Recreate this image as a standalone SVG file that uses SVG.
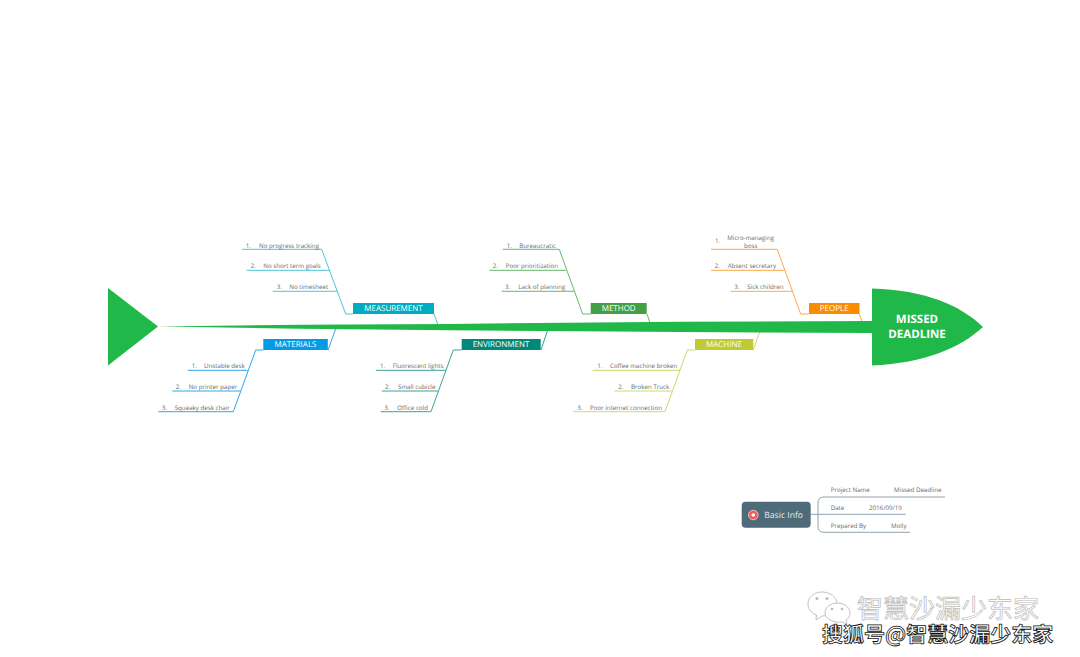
<svg xmlns="http://www.w3.org/2000/svg" width="1080" height="657" viewBox="0 0 1080 657">
<style>
text{font-family:"Open Sans","Noto Sans","Noto Sans CJK SC",sans-serif;text-rendering:geometricPrecision}
.it{font-size:6.2px;fill:#6a6a6a}
.cat{font-size:8px;fill:#fff;text-anchor:middle}
.hd{font-size:11.5px;font-weight:700;fill:#fff;text-anchor:middle}
.ln{fill:none;stroke-width:1}
.wm1{font-family:"Noto Sans CJK SC",sans-serif;font-size:26px;fill:#fff;stroke:#bbb;stroke-width:.7}
.wm2{font-family:"Noto Sans CJK SC",sans-serif;font-size:21px;font-weight:700;fill:#fff;stroke:#111;stroke-width:.8}
.wi{fill:#fff;stroke:#bbb;stroke-width:.9}
.g{fill:#21b84a}
</style>
<g id="connectors">
<g class="ln" stroke="#4fc3d9">
<path d="M434 314L438 325M353 314H345.7L321.7 249.3H242M330 270.3H246.7M337.3 291.3H272.7"/>
</g>
<g class="ln" stroke="#2ea7ea">
<path d="M328 350L336 328M263.3 350H255.7L233.3 411.7H158.3M247.7 370.3H187.7M240.7 391H172.3"/>
</g>
<g class="ln" stroke="#3aa397">
<path d="M541 350L548 329M461.7 350H453.3L431 411.7H380.7M446 370.3H376M438.3 391H381.7"/>
</g>
<g class="ln" stroke="#66b96a">
<path d="M647 314L650 323M590.7 314H582.7L559.3 249.3H502.7M566 270.3H489.3M574 291.3H501.7"/>
</g>
<g class="ln" stroke="#fba94a">
<path d="M859.5 314L862 322M809 314H800.7L777.3 249.3H711M785 270.3H711M792.7 291.3H730.7"/>
</g>
<g class="ln" stroke="#d0d86a">
<path d="M753.3 350L760 331M695 350H687.3L665 411.7H573.3M680 370.3H592.7M671.7 391H614.3"/>
</g>
<g class="ln" stroke="#8ea3ae">
<path d="M810.7 514.3H905.7M945 497H824Q818 497 818 503V526.3Q818 532.3 824 532.3H910"/>
</g>
</g>
<g id="fish">
<path id="spine" class="g" d="M158 326.5L300 324.8L450 323.9L680 321.8L872 321V333L680 332L450 330.2L300 328.8Z"/>
<path id="tail" class="g" d="M108 288L158 326.5L108 365.5Z"/>
<g id="head">
<path class="g" d="M872 288.5C925 290 960 305 983 327C960 348 925 363 872 365.5Z"/>
<text class="hd" x="917" y="323">MISSED</text>
<text class="hd" x="917" y="338">DEADLINE</text>
</g>
</g>
<g id="measurement">
<rect x="353" y="303" width="81" height="11" fill="#00acc1"/><text class="cat" x="393.5" y="311.4">MEASUREMENT</text>
<text class="it" y="247.5"><tspan x="245.7">1.</tspan><tspan x="259">No progress tracking</tspan></text>
<text class="it" y="268.4"><tspan x="250.7">2.</tspan><tspan x="263.3">No short term goals</tspan></text>
<text class="it" y="289.1"><tspan x="276.7">3.</tspan><tspan x="289.3">No timesheet</tspan></text>
</g>
<g id="materials">
<rect x="263.3" y="339" width="64.5" height="11" fill="#039be5"/><text class="cat" x="295.5" y="347.4">MATERIALS</text>
<text class="it" y="368.4"><tspan x="191.7">1.</tspan><tspan x="204">Unstable desk</tspan></text>
<text class="it" y="389.1"><tspan x="175.7">2.</tspan><tspan x="188.7">No printer paper</tspan></text>
<text class="it" y="409.8"><tspan x="161.7">3.</tspan><tspan x="174.7">Squeaky desk chair</tspan></text>
</g>
<g id="environment">
<rect x="461.7" y="339" width="79" height="11" fill="#00897b"/><text class="cat" x="501" y="347.4">ENVIRONMENT</text>
<text class="it" y="368.4"><tspan x="380">1.</tspan><tspan x="392.7">Fluorescent lights</tspan></text>
<text class="it" y="389.1"><tspan x="385">2.</tspan><tspan x="398">Small cubicle</tspan></text>
<text class="it" y="409.8"><tspan x="384.3">3.</tspan><tspan x="397.3">Office cold</tspan></text>
</g>
<g id="method">
<rect x="590.7" y="303" width="56" height="11" fill="#43a047"/><text class="cat" x="618.7" y="311.4">METHOD</text>
<text class="it" y="247.5"><tspan x="506.7">1.</tspan><tspan x="519.3">Bureaucratic</tspan></text>
<text class="it" y="268.4"><tspan x="492.7">2.</tspan><tspan x="505.7">Poor prioritization</tspan></text>
<text class="it" y="289.1"><tspan x="505">3.</tspan><tspan x="518.3">Lack of planning</tspan></text>
</g>
<g id="people">
<rect x="809" y="303" width="50.5" height="11" fill="#fb8c00"/><text class="cat" x="834.2" y="311.4">PEOPLE</text>
<text class="it" y="243"><tspan x="715">1.</tspan></text>
<text class="it" text-anchor="middle" x="750.7" y="239.8">Micro-managing</text>
<text class="it" text-anchor="middle" x="750.7" y="247.7">boss</text>
<text class="it" y="268.4"><tspan x="714.7">2.</tspan><tspan x="727.7">Absent secretary</tspan></text>
<text class="it" y="289.1"><tspan x="734.3">3.</tspan><tspan x="747.3">Sick children</tspan></text>
</g>
<g id="machine">
<rect x="695" y="339" width="58.3" height="11" fill="#c0ca33"/><text class="cat" x="724" y="347.4">MACHINE</text>
<text class="it" y="368.4"><tspan x="597.3">1.</tspan><tspan x="610">Coffee machine broken</tspan></text>
<text class="it" y="389.1"><tspan x="618.3">2.</tspan><tspan x="631">Broken Truck</tspan></text>
<text class="it" y="409.8"><tspan x="577.3">3.</tspan><tspan x="590">Poor internet connection</tspan></text>
</g>
<g id="basic-info">
<rect x="741.7" y="501.7" width="69" height="26" rx="4" fill="#4f6a78"/>
<circle cx="753.3" cy="515" r="4.8" fill="#f25c54" stroke="#f7d5d0" stroke-width=".8"/>
<circle cx="753.3" cy="515" r="1.8" fill="#fff"/>
<text x="764.3" y="518" font-size="8.6px" fill="#e8edf0">Basic Info</text>
</g>
<g id="project-info">
<text class="it" x="830.7" y="492.4">Project Name</text><text class="it" x="894" y="492.4">Missed Deadline</text>
<text class="it" x="830.7" y="510.1">Date</text><text class="it" x="869" y="510.1">2016/09/19</text>
<text class="it" x="830.7" y="528.1">Prepared By</text><text class="it" x="891" y="528.1">Molly</text>
</g>
<g id="watermark">
<path class="wi" d="M822 592C830 592 837 597 837 604C837 611 830 616 822 616L816 620L816.500 615C811 613 808 609 808 604C808 597 814 592 822 592Z"/>
<path class="wi" d="M837.500 603C844 603 850 607 850 613C850 616 848 619 846 620L847 624L842 622C836 623 825 620 825 613C825 607 831 603 837.500 603Z"/>
<circle cx="817" cy="598.500" r="1.5" fill="#bbb"/><circle cx="827" cy="598.500" r="1.500" fill="#bbb"/>
<circle cx="832" cy="609" r="1.300" fill="#bbb"/><circle cx="842" cy="609" r="1.300" fill="#bbb"/>
<text class="wm1" x="857" y="618">智慧沙漏少东家</text>
<text class="wm2" x="822" y="642">搜狐号@智慧沙漏少东家</text>
</g>
</svg>
